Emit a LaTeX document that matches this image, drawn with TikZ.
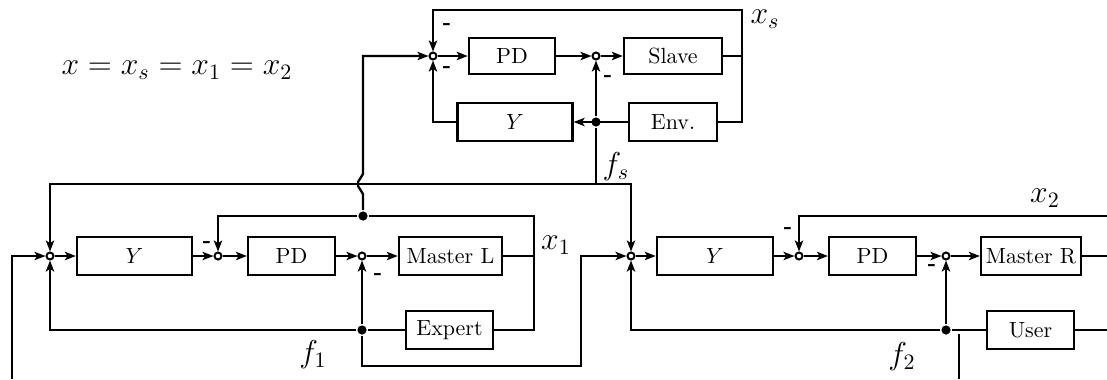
\documentclass[tikz,border=0pt]{standalone}
\usepackage{amsmath}
\usetikzlibrary{arrows.meta, positioning}

\begin{document}
\begin{tikzpicture}[x=0.016cm, y=-0.016cm, line width=1.05pt,
    block/.style={rectangle, draw, line width=1.05pt, minimum height=0.6cm, inner sep=1pt, font=\normalsize},
    sumpt/.style={circle, draw, line width=0.9pt, minimum size=3.2pt, inner sep=0pt},
    dotpt/.style={circle, fill, minimum size=4.2pt, inner sep=0pt},
    arrow/.style={-{Stealth[length=5pt,width=3.8pt,inset=1.2pt]}},
    minus/.style={font=\bfseries, inner sep=0pt},
    sig/.style={font=\Large, inner sep=0pt}
  ]
  \useasboundingbox (0,0) rectangle (1107,379);

  % Lazo del esclavo
  \node[sumpt] (sT1) at (433,56) {};
  \node[block, minimum width=1.38cm, minimum height=0.58cm] (pdT) at (512,56) {PD};
  \node[sumpt] (sT2) at (596,56) {};
  \node[block, minimum width=1.57cm, minimum height=0.58cm] (slave) at (673,56) {Slave};
  \node[block, minimum width=1.41cm] (env) at (673,122) {Env.};
  \node[block, minimum width=1.84cm] (yT) at (515,122) {$Y$};
  \node[dotpt] (dT) at (596,122) {};
  \coordinate (xsT) at (742,10);
  \coordinate (fs) at (596,184);

  % Lazo maestro izquierdo
  \node[sumpt] (s1) at (50,256) {};
  \node[block, minimum width=1.84cm] (yL) at (134.5,256) {$Y$};
  \node[sumpt] (s2) at (218,256) {};
  \node[block, minimum width=1.39cm] (pdL) at (291.5,256) {PD};
  \node[sumpt] (s3) at (362,256) {};
  \node[block, minimum width=1.65cm] (masterL) at (450.5,256) {Master L};
  \node[block, minimum width=1.39cm] (expert) at (449.5,330) {Expert};
  \node[dotpt] (dL) at (362,330) {};
  \node[dotpt] (dM) at (363,216) {};
  \coordinate (x1top) at (534,216);
  \coordinate (inL) at (12,379);

  % Lazo maestro derecho
  \node[sumpt] (s4) at (631,256) {};
  \node[block, minimum width=1.86cm] (yR) at (715,256) {$Y$};
  \node[sumpt] (s5) at (799,256) {};
  \node[block, minimum width=1.39cm] (pdR) at (872.5,256) {PD};
  \node[sumpt] (s6) at (946,256) {};
  \node[block, minimum width=1.6cm] (masterR) at (1031,256) {Master R};
  \node[block, minimum width=1.39cm] (user) at (1030.5,330) {User};
  \node[dotpt] (dR) at (946,330) {};
  \coordinate (x2in) at (1107,216);
  \coordinate (outR) at (1107,256);
  \coordinate (userR) at (1107,330);
  \coordinate (cutA) at (959,334);
  \coordinate (cutB) at (959,379);

  % Flechas del esclavo
  \draw[arrow] (sT1) -- (pdT);
  \draw[arrow] (pdT) -- (sT2);
  \draw[arrow] (sT2) -- (slave);
  \draw[arrow] (slave.east) -| (xsT) -| (sT1);
  \draw (xsT |- slave.east) |- (env.east);
  \draw[arrow] (env.west) -- (yT.east);
  \draw[arrow] (dT) -- (sT2);
  \draw[arrow] (yT.west) -| (sT1);
  \draw (dT) -- (fs);
  \draw[arrow] (fs) -| (s1);
  \draw[arrow] (fs) -| (s4);

  % Flechas del maestro izquierdo
  \draw[arrow] (inL) |- (s1);
  \draw[arrow] (s1) -- (yL);
  \draw[arrow] (yL) -- (s2);
  \draw[arrow] (s2) -- (pdL);
  \draw[arrow] (pdL) -- (s3);
  \draw[arrow] (s3) -- (masterL);
  \draw (masterL.east) -| (x1top) -- (dM);
  \draw (x1top) |- (expert.east);
  \draw[arrow] (dM) -| (s2);
  \draw[arrow] (dM) -- (363,194) -- (358,186) -- (358,182) -- (363,174) |- (sT1);
  \draw (expert.west) -- (dL);
  \draw[arrow] (dL) -- (s3);
  \draw[arrow] (dL) -| (s1);
  \draw[arrow] (dL) |- (581,366) |- (s4);

  % Flechas del maestro derecho
  \draw[arrow] (s4) -- (yR);
  \draw[arrow] (yR) -- (s5);
  \draw[arrow] (s5) -- (pdR);
  \draw[arrow] (pdR) -- (s6);
  \draw[arrow] (s6) -- (masterR);
  \draw (masterR.east) -- (outR);
  \draw[arrow] (x2in) -| (s5);
  \draw (user.east) -- (userR);
  \draw (user.west) -- (dR);
  \draw[arrow] (dR) -- (s6);
  \draw[arrow] (dR) -| (s4);
  \draw (cutA) -- (cutB);

  % Signos
  \node[minus] at (447,27) {-};
  \node[minus] at (447,70) {-};
  \node[minus] at (608,79) {-};
  \node[minus] at (207,245) {-};
  \node[minus] at (378,277) {-};
  \node[minus] at (788,231) {-};
  \node[minus] at (932,268) {-};

  % Etiquetas
  \node[sig] at (765,19) {$x_s$};
  \node[sig] at (616,167) {$f_s$};
  \node[sig] at (556,245) {$x_1$};
  \node[sig] at (313,355) {$f_1$};
  \node[sig] at (1045,198) {$x_2$};
  \node[sig] at (902,357) {$f_2$};
  \node[font=\Large] at (177,70) {$x=x_s=x_1=x_2$};
\end{tikzpicture}
\end{document}
